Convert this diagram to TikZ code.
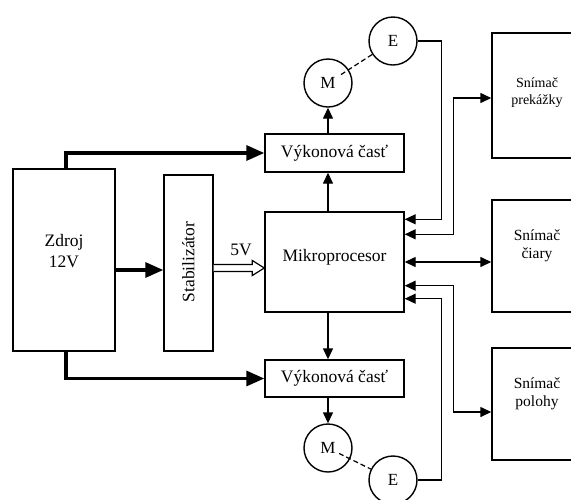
\documentclass[tikz,border=0pt]{standalone}
\usepackage{fontspec}
\setmainfont{Liberation Serif}
\usetikzlibrary{calc,arrows.meta}
\begin{document}
\begin{tikzpicture}[x=1pt,y=-1pt,
  box/.style={draw, line width=1.4pt, inner sep=0pt, align=center},
  circ/.style={draw, line width=1.4pt, circle, minimum size=48pt, inner sep=0pt, font=\fontsize{17}{19}\selectfont},
  arr/.style={line width=1.4pt, -{Triangle[length=11pt,width=10pt]}},
  barr/.style={line width=1.4pt, {Triangle[length=11pt,width=10pt]}-{Triangle[length=11pt,width=10pt]}},
  thick arr/.style={line width=3.2pt, -{Triangle[length=18pt,width=15pt]}},
  mainfont/.style={font=\fontsize{17.5}{21}\selectfont},
  snfont/.style={font=\fontsize{15.5}{18}\selectfont},
  smallfont/.style={font=\fontsize{14}{17}\selectfont}
]
\useasboundingbox (0,0) rectangle (571,499);
\clip (0,0) rectangle (571,499);
\fill[white] (0,0) rectangle (571,499);

% blocks
\node[box, minimum width=102pt, minimum height=182pt] (zdroj) at (64,260) {};
\node[mainfont, align=center] (zdrojt) at (64,251) {Zdroj\\12V};
\node[box, minimum width=49pt, minimum height=176pt] (stab) at (188.5,263) {};
\node[mainfont, rotate=90] (stabt) at (188.5,262) {Stabilizátor};
\node[box, minimum width=139pt, minimum height=38pt, mainfont] (vyk1) at (334.5,153) {Výkonová časť};
\node[box, minimum width=139pt, minimum height=100pt] (mikro) at (334.5,262) {};
\node[mainfont] (mikrot) at (334.5,257) {Mikroprocesor};
\node[box, minimum width=139pt, minimum height=37pt, mainfont] (vyk2) at (334.5,378.5) {Výkonová časť};

\node[circ] (M1) at (328,83) {M};
\node[circ] (E1) at (393,41) {E};
\node[circ] (M2) at (328,448) {M};
\node[circ] (E2) at (393,480) {E};

\node[box, minimum width=90pt, minimum height=125pt] (s1) at (537,95.5) {};
\node[smallfont, align=center] (s1t) at (537,93) {Snímač\\prekážky};
\node[box, minimum width=90pt, minimum height=112pt] (s2) at (537,256) {};
\node[snfont, align=center] (s2t) at (537,246) {Snímač\\čiary};
\node[box, minimum width=90pt, minimum height=112pt] (s3) at (537,404) {};
\node[snfont, align=center] (s3t) at (537,394) {Snímač\\polohy};

\node[mainfont] (v5) at (241,250) {5V};

% thick power lines
\draw[thick arr] ($(zdroj.north)+(2,0)$) |- (vyk1.west);
\draw[thick arr] ($(zdroj.south)+(2,0)$) |- (vyk2.west);
\draw[thick arr] ($(zdroj.east)+(0,10)$) -- ($(stab.west)+(0,7)$);

% hollow 5V arrow
\coordinate (v0) at ($(stab.east)+(0,5)$);
\coordinate (v1) at (v0 -| mikro.west);
\draw[line width=1.2pt, fill=white, line join=miter]
  ($(v0)+(0,-3.5)$) -- ($(v1)+(-12,-3.5)$) -- ($(v1)+(-12,-7.5)$) -- (v1)
  -- ($(v1)+(-12,7.5)$) -- ($(v1)+(-12,3.5)$) -- ($(v0)+(0,3.5)$);

% control arrows
\draw[arr] (M1 |- mikro.north) -- (M1 |- vyk1.south);
\draw[arr] (M1 |- vyk1.north) -- (M1.south);
\draw[arr] (M2 |- mikro.south) -- (M2 |- vyk2.north);
\draw[arr] (M2 |- vyk2.south) -- (M2.north);

% motor-encoder couplings
\draw[line width=1.2pt, dash pattern=on 5pt off 3pt] ($(M1)!0.2!(E1)$) -- (E1);
\draw[line width=1.2pt, dash pattern=on 5pt off 3pt] ($(M2)!0.17!(E2)$) -- (E2);

% encoder feedback
\draw[arr] (E1.east) -- ++(24,0) |- ($(mikro.north east)+(0,8)$);
\draw[arr] (E2.east) -- ++(24,0) |- ($(mikro.south east)+(0,-14)$);

% sensors
\draw[barr] ($(mikro.north east)+(0,23)$) -- ++(49,0) |- ($(s1.west)+(0,2.5)$);
\draw[barr] (mikro.east) -- (mikro.east -| s2.west);
\draw[barr] ($(mikro.south east)+(0,-27)$) -- ++(49,0) |- ($(s3.west)+(0,8)$);
\end{tikzpicture}
\end{document}
